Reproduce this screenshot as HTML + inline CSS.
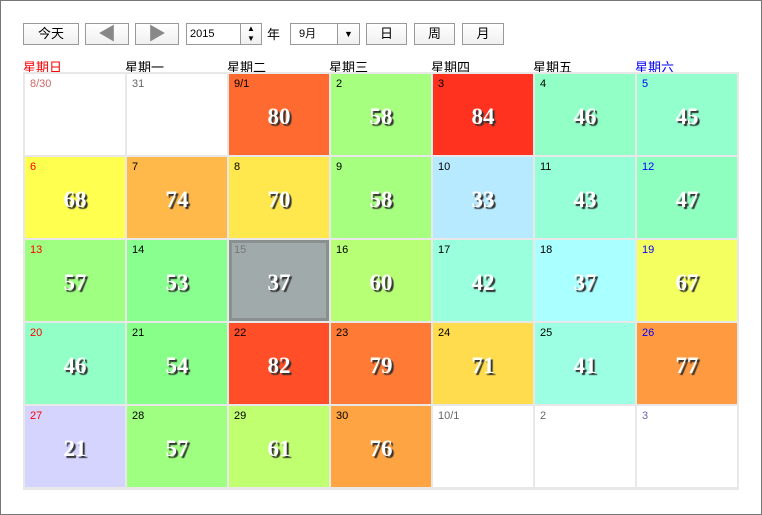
<!DOCTYPE html>
<html><head><meta charset="utf-8"><style>
body{margin:0;width:762px;height:515px;background:#fff;font-family:"Liberation Sans","Noto Sans CJK SC",sans-serif;position:relative;overflow:hidden}
#frame{position:absolute;left:0;top:0;width:760px;height:513px;border:1px solid #777}
.btn{position:absolute;top:23px;height:22px;border:1px solid #999;background:linear-gradient(#fff,#f0f0f0);box-sizing:border-box;font-size:13px;text-align:center;line-height:20px;color:#000}
.hdr{position:absolute;top:57px;font-size:13px}
#grid{position:absolute;left:23px;top:72px;width:716px;height:418px;background:#e8e8e8}
.cell{position:absolute;box-sizing:border-box}
.d{position:absolute;left:5px;top:4px;font-size:11px}
.v{position:absolute;left:0;right:0;top:30px;text-align:center;font-family:"Liberation Serif",serif;font-weight:bold;font-size:23px;color:#fff;text-shadow:2px 2px 1px #333}
</style></head><body>
<div id="frame"></div>
<div class="btn" style="left:23px;width:56px">今天</div>
<div class="btn" style="left:85px;width:44px;color:#888;font-size:18px">◀</div>
<div class="btn" style="left:135px;width:44px;color:#888;font-size:18px">▶</div>
<div class="btn" style="left:186px;width:76px;text-align:left;padding-left:3px;font-size:11px;background:#fff">2015</div>
<div class="btn" style="left:240px;width:22px;font-size:8px;line-height:10px">▲<br>▼</div>
<div style="position:absolute;left:267px;top:24px;font-size:13px">年</div>
<div class="btn" style="left:290px;width:70px;text-align:left;padding-left:8px;font-size:11px;background:#fff">9月</div>
<div class="btn" style="left:337px;width:23px;font-size:9px">▼</div>
<div class="btn" style="left:366px;width:41px">日</div>
<div class="btn" style="left:414px;width:41px">周</div>
<div class="btn" style="left:462px;width:42px">月</div>
<div id="hdrs"></div>
<div id="grid"></div>
<script>
const weekdays=["星期日","星期一","星期二","星期三","星期四","星期五","星期六"];
const dateLabels=["8/30","31","9/1","2","3","4","5","6","7","8","9","10","11","12","13","14","15","16","17","18","19","20","21","22","23","24","25","26","27","28","29","30","10/1","2","3"];
const values=[null,null,80,58,84,46,45,68,74,70,58,33,43,47,57,53,37,60,42,37,67,46,54,82,79,71,41,77,21,57,61,76,null,null,null];
const stops=[[21,[212,212,255]],[33,[184,234,255]],[37,[170,255,255]],[42,[153,255,221]],[47,[143,255,192]],[54,[136,255,136]],[58,[166,255,126]],[61,[192,255,112]],[67,[244,255,96]],[68,[255,255,80]],[70,[255,232,78]],[74,[255,184,74]],[77,[255,154,64]],[80,[255,106,48]],[84,[255,50,32]]];
function color(v){
 if(v<=stops[0][0])return 'rgb('+stops[0][1]+')';
 for(let i=1;i<stops.length;i++){if(v<=stops[i][0]){const a=stops[i-1],b=stops[i],t=(v-a[0])/(b[0]-a[0]);return 'rgb('+a[1].map((c,k)=>Math.round(c+(b[1][k]-c)*t)).join(',')+')';}}
 return 'rgb('+stops[stops.length-1][1]+')';
}
const colX=i=>i*102, rowY=i=>i*83;
const hd=document.getElementById('hdrs');
weekdays.forEach((w,i)=>{const e=document.createElement('div');e.className='hdr';e.style.left=(23+colX(i))+'px';e.style.color=i==0?'#f00':i==6?'#00f':'#000';e.textContent=w;


hd.appendChild(e);});
const g=document.getElementById('grid');
const selected=16;
dateLabels.forEach((d,i)=>{
 const c=i%7,r=Math.floor(i/7),v=values[i];
 const e=document.createElement('div');e.className='cell';
 e.style.left=(colX(c)+2)+'px';e.style.top=(rowY(r)+2)+'px';e.style.width='100px';e.style.height='81px';
 const inMonth=v!==null;
 e.style.background=i===selected?'#a0aaaa':inMonth?color(v):'#fff';
 if(i===selected)e.style.border='3px solid #8a9090';
 
 
 const dl=document.createElement('div');dl.className='d';dl.textContent=d;
 if(i===selected){dl.style.left='2px';dl.style.top='1px';}
 dl.style.color=inMonth?(c==0?'#f00':c==6?'#00f':(i===selected?'#777':'#000')):(c==0?'#c66':c==6?'#66a':'#666');
 
 
 e.appendChild(dl);
 if(inMonth){const vl=document.createElement('div');vl.className='v';vl.textContent=v;if(i===selected)vl.style.top='27px';
 
 
 e.appendChild(vl);}
 g.appendChild(e);
});
</script>
</body></html>
